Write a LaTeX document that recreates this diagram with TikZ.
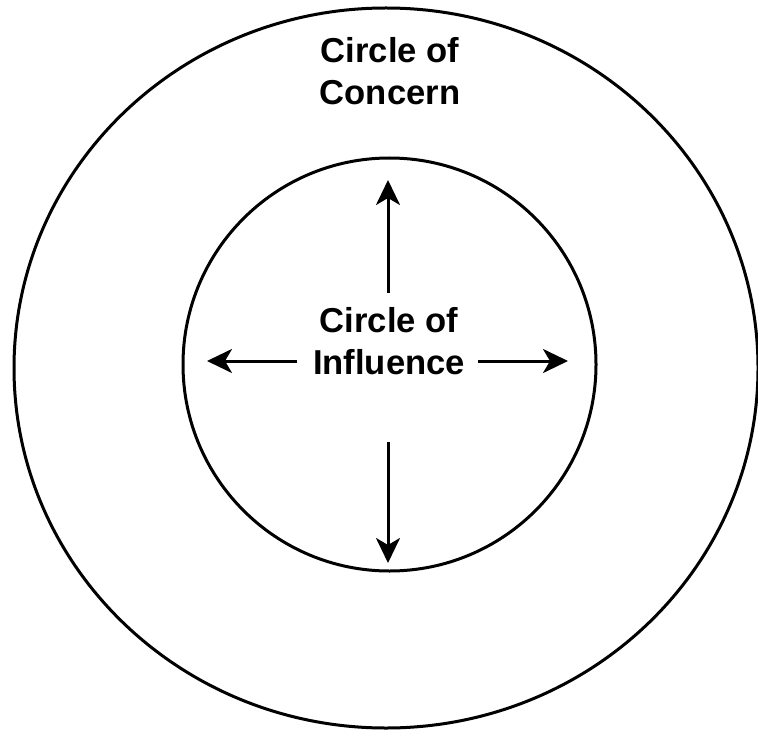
\documentclass[tikz,border=0pt]{standalone}
\usepackage{fontspec}
\setmainfont{Liberation Sans}
\usetikzlibrary{arrows.meta}

\begin{document}
\begin{tikzpicture}[x=0.5pt, y=-0.5pt,
    >={Stealth[length=12.5pt, width=12pt, inset=3.5pt]},
    ring/.style={line width=1.5pt},
    push/.style={line width=1.5pt, ->},
    circtext/.style={align=center, inner sep=0pt, font=\fontsize{17.3}{21}\selectfont\bfseries}]
    \useasboundingbox (0,0) rectangle (758,732);
    % Hai vòng tròn
    \draw[ring] (386,368) ellipse [x radius=372, y radius=360];
    \draw[ring] (389.5,364.5) circle [radius=206.5];
    % Nhãn
    \node[circtext] (concern) at (390,71) {Circle of\\Concern};
    \node[circtext] (influence) at (389,341) {Circle of\\Influence};
    % Điểm đầu và cuối của mũi tên
    \coordinate (upfoot) at (388,293);   \coordinate (uptip) at (388,180);
    \coordinate (downfoot) at (388,442); \coordinate (downtip) at (388,563);
    \coordinate (leftfoot) at (297,361); \coordinate (lefttip) at (207,361);
    \coordinate (rightfoot) at (478,361);\coordinate (righttip) at (568,361);
    % Mũi tên mở rộng
    \draw[push] (upfoot) -- (uptip);
    \draw[push] (downfoot) -- (downtip);
    \draw[push] (leftfoot) -- (lefttip);
    \draw[push] (rightfoot) -- (righttip);
\end{tikzpicture}
\end{document}
